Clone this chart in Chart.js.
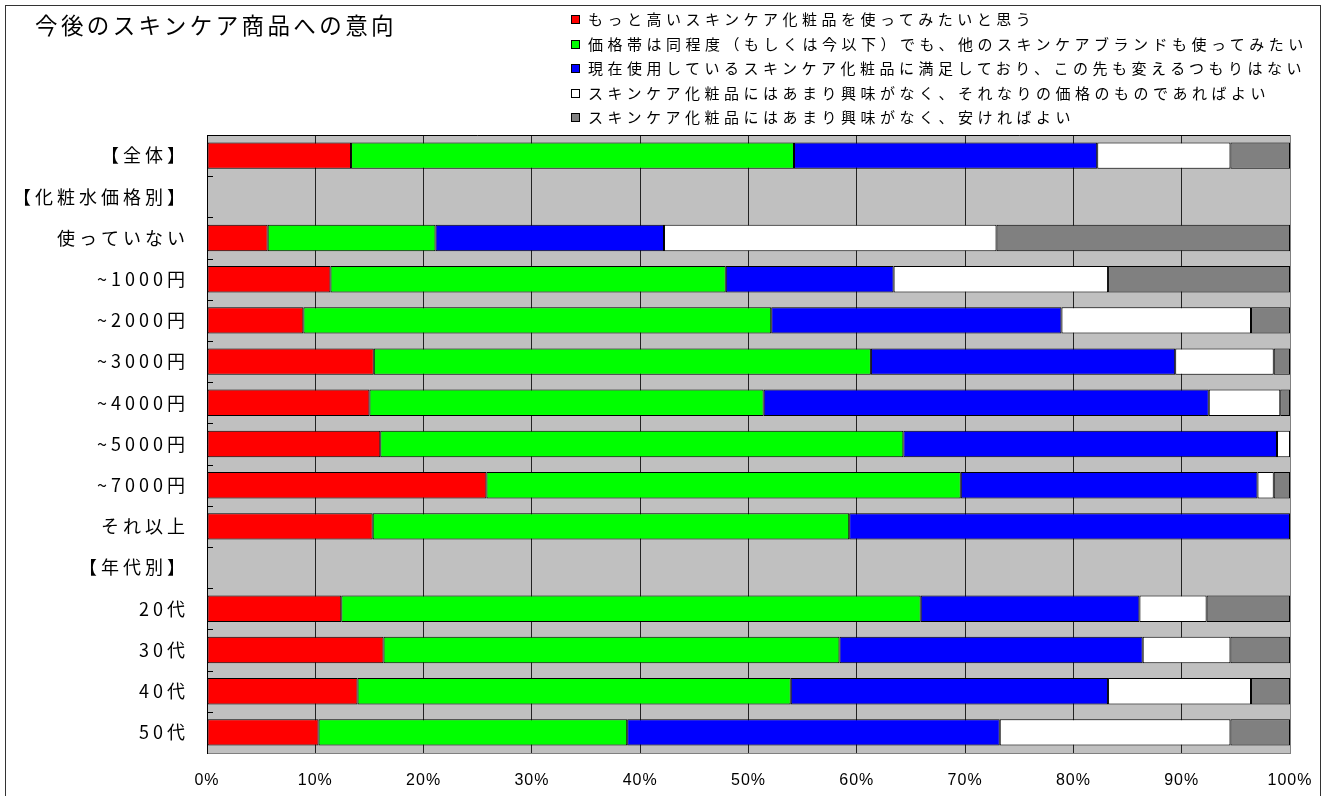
<!DOCTYPE html>
<html lang="ja">
<head>
<meta charset="utf-8">
<title>今後のスキンケア商品への意向</title>
<script src="https://cdn.jsdelivr.net/npm/chart.js@4.4.1/dist/chart.umd.min.js"></script>
<style>
    html, body { margin: 0; padding: 0; background: #fff; overflow: hidden; }
    #wrap { position: relative; width: 1329px; height: 796px; }
    #frame { position: absolute; left: 5px; top: 5px; width: 1316px; height: 820px; border: 1px solid #333; box-sizing: border-box; pointer-events: none; }
    #title { position: absolute; left: 35px; top: 9px; font: 22.5px "Noto Sans CJK JP", sans-serif; letter-spacing: 3.4px; line-height: 30px; color: #000; white-space: nowrap; }
    #legend { position: absolute; left: 571px; top: 7px; font: 15px "Noto Sans CJK JP", sans-serif; letter-spacing: 4.5px; line-height: 24.5px; color: #000; white-space: nowrap; }
    #legend .box { display: inline-block; width: 7px; height: 7px; border: 1px solid #000; margin-right: 8px; vertical-align: 1px; }
    #chartBox { position: absolute; left: 0; top: 0; width: 1329px; height: 796px; }
</style>
</head>
<body>
<div id="wrap">
    <div id="chartBox"><canvas id="skinCareChart"></canvas></div>
    <div id="frame"></div>
    <div id="title">今後のスキンケア商品への意向</div>
    <div id="legend"></div>
</div>
<script>
// 分類
const categories = ['【全体】', '【化粧水価格別】', '使っていない', '~1000円', '~2000円', '~3000円', '~4000円',
    '~5000円', '~7000円', 'それ以上', '【年代別】', '20代', '30代', '40代', '50代'];

// 系列名
const seriesNames = [
    'もっと高いスキンケア化粧品を使ってみたいと思う',
    '価格帯は同程度（もしくは今以下）でも、他のスキンケアブランドも使ってみたい',
    '現在使用しているスキンケア化粧品に満足しており、この先も変えるつもりはない',
    'スキンケア化粧品にはあまり興味がなく、それなりの価格のものであればよい',
    'スキンケア化粧品にはあまり興味がなく、安ければよい'
];

// 各系列の値 (%)
const wantHigher = [13.3, null, 5.6, 11.4, 8.9, 15.4, 15.0, 16.0, 25.8, 15.3, null, 12.4, 16.3, 13.9, 10.3];
const tryOther   = [40.9, null, 15.5, 36.5, 43.2, 45.9, 36.4, 48.3, 43.8, 44.0, null, 53.5, 42.1, 40.0, 28.5];
const satisfied  = [28.0, null, 21.1, 15.5, 26.8, 28.1, 41.1, 34.5, 27.4, 40.7, null, 20.2, 28.0, 29.3, 34.4];
const reasonable = [12.3, null, 30.7, 19.8, 17.5, 9.1, 6.6, 1.2, 1.5, 0, null, 6.2, 8.1, 13.2, 21.3];
const cheap      = [5.5, null, 27.1, 16.8, 3.6, 1.5, 0.9, 0, 1.5, 0, null, 7.7, 5.5, 3.6, 5.5];

// 目盛り
const xTicks = [0, 10, 20, 30, 40, 50, 60, 70, 80, 90, 100];

const seriesValues = [wantHigher, tryOther, satisfied, reasonable, cheap];
const seriesColors = ['#ff0000', '#00ff00', '#0000ff', '#ffffff', '#808080'];

// 凡例 (HTML)
const legendEl = document.getElementById('legend');
seriesNames.forEach(function(name, i) {
    const row = document.createElement('div');
    const box = document.createElement('span');
    box.className = 'box';
    box.style.background = seriesColors[i];
    row.appendChild(box);
    row.appendChild(document.createTextNode(name));
    legendEl.appendChild(row);
});

// 背景・枠線・内側目盛り
const plotDecor = {
    id: 'plotDecor',
    beforeDraw(chart) {
        const ctx = chart.ctx;
        const a = chart.chartArea;
        ctx.letterSpacing = '4px';
        ctx.save();
        ctx.fillStyle = '#c0c0c0';
        ctx.fillRect(a.left, a.top, a.right - a.left, a.bottom - a.top);
        ctx.restore();
    },
    afterDatasetsDraw(chart) {
        const ctx = chart.ctx;
        const a = chart.chartArea;
        const y = chart.scales.y;
        ctx.save();
        ctx.lineWidth = 1;
        ctx.strokeStyle = '#000';
        ctx.beginPath();
        for (let i = 1; i < categories.length; i++) {
            const py = Math.round((y.getPixelForValue(i - 1) + y.getPixelForValue(i)) / 2) + 0.5;
            ctx.moveTo(a.left, py);
            ctx.lineTo(a.left + 6, py);
        }
        ctx.moveTo(a.left, Math.round(a.top) + 0.5);
        ctx.lineTo(a.right, Math.round(a.top) + 0.5);
        ctx.stroke();
        ctx.strokeStyle = '#808080';
        ctx.beginPath();
        ctx.moveTo(Math.round(a.right) + 0.5, a.top);
        ctx.lineTo(Math.round(a.right) + 0.5, a.bottom);
        ctx.stroke();
        ctx.restore();
        // x軸ラベル用
        ctx.letterSpacing = '1px';
    }
};

const ctx = document.getElementById('skinCareChart').getContext('2d');
const skinCareChart = new Chart(ctx, {
    type: 'bar',
    data: {
        labels: categories,
        datasets: seriesValues.map(function(values, i) {
            return {
                label: seriesNames[i],
                data: values,
                backgroundColor: seriesColors[i],
                borderColor: '#000',
                borderWidth: 1,
                borderSkipped: false,
                barPercentage: 0.64,
                categoryPercentage: 1
            };
        })
    },
    options: {
        indexAxis: 'y',
        responsive: true,
        maintainAspectRatio: false,
        animation: false,
        layout: {
            padding: { top: 135, right: 39, bottom: 0, left: 0 }
        },
        plugins: {
            legend: { display: false },
            title: { display: false },
            tooltip: { enabled: false }
        },
        scales: {
            x: {
                stacked: true,
                min: 0,
                max: 100,
                afterBuildTicks: function(scale) {
                    scale.ticks = xTicks.map(function(v) { return { value: v }; });
                },
                afterFit: function(scale) { scale.height = 43; },
                grid: {
                    color: '#222',
                    lineWidth: 1,
                    drawTicks: false
                },
                border: { display: true, color: '#808080', width: 1 },
                ticks: {
                    z: 1,
                    padding: 18,
                    color: '#000',
                    font: { family: '"Liberation Sans", Arial, sans-serif', size: 16 },
                    callback: function(v) { return v + '%'; }
                }
            },
            y: {
                stacked: true,
                afterFit: function(scale) { scale.width = 207; },
                grid: { display: false },
                border: { display: true, color: '#000', width: 1 },
                ticks: {
                    padding: 10,
                    color: '#000',
                    font: { family: '"Noto Sans CJK JP", sans-serif', size: 18 }
                }
            }
        }
    },
    plugins: [plotDecor]
});
</script>
</body>
</html>
